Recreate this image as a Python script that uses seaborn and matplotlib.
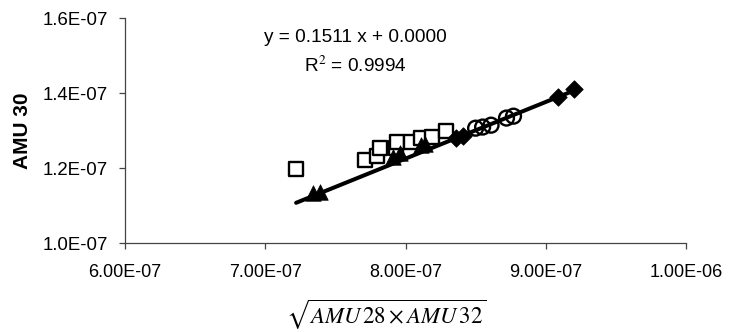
import matplotlib
matplotlib.use("Agg")
import matplotlib.pyplot as plt
import seaborn as sns
import numpy as np
import pandas as pd

# ---- data ----
sq_x = [7.22e-7, 7.71e-7, 7.80e-7, 7.82e-7, 7.93e-7, 7.94e-7, 8.04e-7, 8.11e-7, 8.19e-7, 8.29e-7]
sq_y = [1.198e-7, 1.222e-7, 1.233e-7, 1.254e-7, 1.254e-7, 1.270e-7, 1.270e-7, 1.281e-7, 1.283e-7, 1.299e-7]

tri_x = [7.34e-7, 7.39e-7, 7.91e-7, 7.96e-7, 8.11e-7, 8.14e-7]
tri_y = [1.134e-7, 1.136e-7, 1.230e-7, 1.241e-7, 1.262e-7, 1.266e-7]

dia_x = [8.36e-7, 8.41e-7, 9.09e-7, 9.20e-7]
dia_y = [1.281e-7, 1.286e-7, 1.390e-7, 1.412e-7]

circ_x = [8.50e-7, 8.55e-7, 8.61e-7, 8.72e-7, 8.77e-7]
circ_y = [1.307e-7, 1.310e-7, 1.315e-7, 1.334e-7, 1.339e-7]

fit_slope = 0.1511
fit_intercept = 1.7e-9
r_squared = 0.9994

x_ticks = [6.0e-7, 7.0e-7, 8.0e-7, 9.0e-7, 1.0e-6]
x_tick_labels = ["6.00E-07", "7.00E-07", "8.00E-07", "9.00E-07", "1.00E-06"]
y_ticks = [1.0e-7, 1.2e-7, 1.4e-7, 1.6e-7]
y_tick_labels = ["1.0E-07", "1.2E-07", "1.4E-07", "1.6E-07"]

# ---- plotting ----
sns.set_theme(style="white")
plt.rcParams['font.family'] = ['Liberation Sans', 'DejaVu Sans']
plt.rcParams['mathtext.fontset'] = 'stix'

fig = plt.figure(figsize=(7.30, 3.32), dpi=100)
ax = fig.add_axes([125/730, 1 - 243.3/332, (686-125)/730, (243.3-18.3)/332])

sns.scatterplot(x=sq_x, y=sq_y, marker='s', s=115, facecolor='white',
                edgecolor='black', linewidth=1.7, ax=ax, zorder=2)
sns.scatterplot(x=tri_x, y=tri_y, marker='^', s=125, color='black',
                edgecolor='black', linewidth=0.5, ax=ax, zorder=2)
sns.scatterplot(x=dia_x, y=dia_y, marker='D', s=80, color='black',
                edgecolor='black', linewidth=0.5, ax=ax, zorder=2)
sns.scatterplot(x=circ_x, y=circ_y, marker='o', s=115, facecolor='none',
                edgecolor='black', linewidth=1.7, ax=ax, zorder=2)

all_x = np.array(sq_x + tri_x + dia_x + circ_x)
line_x = np.array([all_x.min(), all_x.max()])
line_df = pd.DataFrame({'x': line_x, 'y': fit_slope * line_x + fit_intercept})
sns.lineplot(data=line_df, x='x', y='y', color='black', linewidth=2.9, ax=ax, zorder=3)

ax.set_xlim(6.0e-7, 1.0e-6)
ax.set_ylim(1.0e-7, 1.6e-7)
ax.set_xticks(x_ticks)
ax.set_xticklabels(x_tick_labels)
ax.set_yticks(y_ticks)
ax.set_yticklabels(y_tick_labels)

for side in ['top', 'right']:
    ax.spines[side].set_visible(False)
for side in ['left', 'bottom']:
    ax.spines[side].set_color('#444444')
    ax.spines[side].set_linewidth(0.9)

ax.tick_params(axis='x', direction='out', length=4, width=0.9, color='#444444',
               labelsize=13, pad=11, bottom=True, labelcolor='black')
ax.tick_params(axis='y', direction='out', length=4, width=0.9, color='#444444',
               labelsize=13.4, pad=8.5, left=True, labelcolor='black')

ax.set_ylabel("AMU 30", fontsize=15, fontweight='bold', color='black')
ax.yaxis.set_label_coords(-(125-32)/561, 0.5)
ax.set_xlabel(r"$\sqrt{AMU\,28\times AMU\,32}$", fontsize=16.5, color='black')
ax.xaxis.set_label_coords((386-125)/561, -(298-243.3)/225)

ax.text((355-125)/561, (243.3-38)/225, "y = %.4f x + %.4f" % (fit_slope, fit_intercept),
        transform=ax.transAxes, ha='center', va='center', fontsize=13.7, color='black')
ax.text((355-125)/561, (243.3-66)/225, "R$^2$ = %.4f" % r_squared,
        transform=ax.transAxes, ha='center', va='center', fontsize=13.7, color='black')

fig.savefig("out.png", dpi=100)
